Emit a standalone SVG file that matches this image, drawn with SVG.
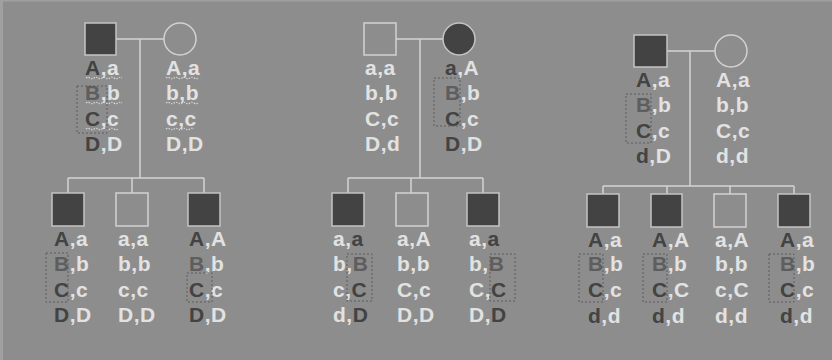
<svg xmlns="http://www.w3.org/2000/svg" width="832" height="360" viewBox="0 0 832 360">
  <style>
    .bg { fill: #8d8d8d; }
    .edge { fill: #a0a0a0; }
    .aff { fill: #434343; stroke: #c4c4c4; stroke-width: 1.5; }
    .un { fill: none; stroke: #d2d2d2; stroke-width: 1.5; }
    .ln { fill: none; stroke: #d4d4d4; stroke-width: 1.5; }
    .gt { font-family: "Liberation Sans", Arial, sans-serif; font-weight: bold; font-size: 21px; letter-spacing: 0.5px; fill: #e2e2e2; }
    .d { fill: #434343; }
    .m { fill: #5e5e5e; }
    .box { fill: none; stroke: #5c5c5c; stroke-width: 1; stroke-dasharray: 2 2; }
    .wave { fill: none; stroke: #d8d8d8; stroke-width: 1.2; stroke-dasharray: 1.5 1.2; }
  </style>

  <rect class="bg" x="0" y="0" width="832" height="360"/>
  <rect class="edge" x="0" y="0" width="3" height="360"/>
  <rect class="edge" x="0" y="0" width="832" height="1.5"/>

  <!-- connectors: marriage lines, descent lines, sibship lines -->
  <g id="connectors" class="ln">
    <path d="M116 39 H164 M140 39 V178 M68 178 H204 M68 178 V193 M132 178 V193 M204 178 V193"/>
    <path d="M396 39 H443 M420 39 V178 M348 178 H483 M348 178 V193 M411 178 V193 M483 178 V193"/>
    <path d="M667 51 H715 M690 51 V186 M603 186 H794 M603 186 V194 M667 186 V194 M730 186 V194 M794 186 V194"/>
  </g>

  <!-- family 1 -->
  <g id="f1-father">
    <rect class="aff" x="85" y="23" width="31" height="32"/>
    <text class="gt" x="85" y="75"><tspan class="d">A</tspan>,a</text>
    <text class="gt" x="85" y="100"><tspan class="m">B</tspan>,b</text>
    <text class="gt" x="85" y="126"><tspan class="d">C</tspan>,c</text>
    <text class="gt" x="85" y="151"><tspan class="d">D</tspan>,D</text>
    <path class="wave" d="M86 78 q2 -1.5 4 0 t4 0 t4 0 t4 0 t4 0 t4 0 t4 0 t4 0 t4 0"/>
    <path class="wave" d="M86 103 q2 -1.5 4 0 t4 0 t4 0 t4 0 t4 0 t4 0 t4 0 t4 0 t4 0"/>
    <path class="wave" d="M86 129 q2 -1.5 4 0 t4 0 t4 0 t4 0 t4 0 t4 0 t4 0 t4 0"/>
    <rect class="box" x="77" y="86" width="30" height="47"/>
  </g>
  <g id="f1-mother">
    <circle class="un" cx="180" cy="39" r="16"/>
    <text class="gt" x="166" y="75">A,a</text>
    <text class="gt" x="166" y="100">b,b</text>
    <text class="gt" x="166" y="126">c,c</text>
    <text class="gt" x="166" y="151">D,D</text>
    <path class="wave" d="M166 78 q2 -1.5 4 0 t4 0 t4 0 t4 0 t4 0 t4 0 t4 0 t4 0"/>
    <path class="wave" d="M166 103 q2 -1.5 4 0 t4 0 t4 0 t4 0 t4 0 t4 0 t4 0 t4 0"/>
    <path class="wave" d="M166 129 q2 -1.5 4 0 t4 0 t4 0 t4 0 t4 0 t4 0 t4 0"/>
  </g>
  <g id="f1-child1">
    <rect class="aff" x="52" y="193" width="32" height="33"/>
    <text class="gt" x="54" y="246"><tspan class="d">A</tspan>,a</text>
    <text class="gt" x="54" y="271"><tspan class="m">B</tspan>,b</text>
    <text class="gt" x="54" y="297"><tspan class="d">C</tspan>,c</text>
    <text class="gt" x="54" y="322"><tspan class="d">D</tspan>,D</text>
    <rect class="box" x="46" y="253" width="22" height="49"/>
  </g>
  <g id="f1-child2">
    <rect class="un" x="116" y="193" width="32" height="33"/>
    <text class="gt" x="118" y="246">a,a</text>
    <text class="gt" x="118" y="271">b,b</text>
    <text class="gt" x="118" y="297">c,c</text>
    <text class="gt" x="118" y="322">D,D</text>
  </g>
  <g id="f1-child3">
    <rect class="aff" x="188" y="193" width="32" height="33"/>
    <text class="gt" x="189" y="246"><tspan class="d">A</tspan>,A</text>
    <text class="gt" x="189" y="271"><tspan class="m">B</tspan>,b</text>
    <text class="gt" x="189" y="297"><tspan class="d">C</tspan>,c</text>
    <text class="gt" x="189" y="322"><tspan class="d">D</tspan>,D</text>
    <rect class="box" x="187" y="273" width="25" height="29"/>
  </g>

  <!-- family 2 -->
  <g id="f2-father">
    <rect class="un" x="364" y="23" width="32" height="32"/>
    <text class="gt" x="365" y="75">a,a</text>
    <text class="gt" x="365" y="100">b,b</text>
    <text class="gt" x="365" y="126">C,c</text>
    <text class="gt" x="365" y="151">D,d</text>
  </g>
  <g id="f2-mother">
    <circle class="aff" cx="459" cy="39" r="16"/>
    <text class="gt" x="445" y="75"><tspan class="d">a</tspan>,A</text>
    <text class="gt" x="445" y="100"><tspan class="m">B</tspan>,b</text>
    <text class="gt" x="445" y="126"><tspan class="d">C</tspan>,c</text>
    <text class="gt" x="445" y="151"><tspan class="d">D</tspan>,D</text>
    <rect class="box" x="434" y="78" width="26" height="48"/>
  </g>
  <g id="f2-child1">
    <rect class="aff" x="332" y="193" width="32" height="33"/>
    <text class="gt" x="333" y="246">a,<tspan class="d">a</tspan></text>
    <text class="gt" x="333" y="271">b,<tspan class="m">B</tspan></text>
    <text class="gt" x="333" y="297">c,<tspan class="d">C</tspan></text>
    <text class="gt" x="333" y="322">d,<tspan class="d">D</tspan></text>
    <rect class="box" x="347" y="254" width="25" height="47"/>
  </g>
  <g id="f2-child2">
    <rect class="un" x="396" y="193" width="32" height="33"/>
    <text class="gt" x="397" y="246">a,A</text>
    <text class="gt" x="397" y="271">b,b</text>
    <text class="gt" x="397" y="297">C,c</text>
    <text class="gt" x="397" y="322">D,D</text>
  </g>
  <g id="f2-child3">
    <rect class="aff" x="467" y="193" width="32" height="33"/>
    <text class="gt" x="469" y="246">a,<tspan class="d">a</tspan></text>
    <text class="gt" x="469" y="271">b,<tspan class="m">B</tspan></text>
    <text class="gt" x="469" y="297">C,<tspan class="d">C</tspan></text>
    <text class="gt" x="469" y="322">D,<tspan class="d">D</tspan></text>
    <rect class="box" x="490" y="254" width="25" height="47"/>
  </g>

  <!-- family 3 -->
  <g id="f3-father">
    <rect class="aff" x="634" y="35" width="33" height="32"/>
    <text class="gt" x="636" y="87"><tspan class="d">A</tspan>,a</text>
    <text class="gt" x="636" y="112"><tspan class="m">B</tspan>,b</text>
    <text class="gt" x="636" y="138"><tspan class="d">C</tspan>,c</text>
    <text class="gt" x="636" y="163"><tspan class="d">d</tspan>,D</text>
    <rect class="box" x="626" y="94" width="25" height="49"/>
  </g>
  <g id="f3-mother">
    <circle class="un" cx="731" cy="51" r="16"/>
    <text class="gt" x="716" y="87">A,a</text>
    <text class="gt" x="716" y="112">b,b</text>
    <text class="gt" x="716" y="138">C,c</text>
    <text class="gt" x="716" y="163">d,d</text>
  </g>
  <g id="f3-child1">
    <rect class="aff" x="587" y="194" width="32" height="33"/>
    <text class="gt" x="588" y="247"><tspan class="d">A</tspan>,a</text>
    <text class="gt" x="588" y="271"><tspan class="m">B</tspan>,b</text>
    <text class="gt" x="588" y="297"><tspan class="d">C</tspan>,c</text>
    <text class="gt" x="588" y="323"><tspan class="d">d</tspan>,d</text>
    <rect class="box" x="579" y="254" width="24" height="48"/>
  </g>
  <g id="f3-child2">
    <rect class="aff" x="651" y="194" width="31" height="33"/>
    <text class="gt" x="652" y="247"><tspan class="d">A</tspan>,A</text>
    <text class="gt" x="652" y="271"><tspan class="m">B</tspan>,b</text>
    <text class="gt" x="652" y="297"><tspan class="d">C</tspan>,C</text>
    <text class="gt" x="652" y="323"><tspan class="d">d</tspan>,d</text>
    <rect class="box" x="643" y="254" width="24" height="48"/>
  </g>
  <g id="f3-child3">
    <rect class="un" x="714" y="194" width="32" height="33"/>
    <text class="gt" x="715" y="247">a,A</text>
    <text class="gt" x="715" y="271">b,b</text>
    <text class="gt" x="715" y="297">c,C</text>
    <text class="gt" x="715" y="323">d,d</text>
  </g>
  <g id="f3-child4">
    <rect class="aff" x="778" y="194" width="32" height="33"/>
    <text class="gt" x="780" y="247"><tspan class="d">A</tspan>,a</text>
    <text class="gt" x="780" y="271"><tspan class="m">B</tspan>,b</text>
    <text class="gt" x="780" y="297"><tspan class="d">C</tspan>,c</text>
    <text class="gt" x="780" y="323"><tspan class="d">d</tspan>,d</text>
    <rect class="box" x="769" y="254" width="25" height="48"/>
  </g>
</svg>
